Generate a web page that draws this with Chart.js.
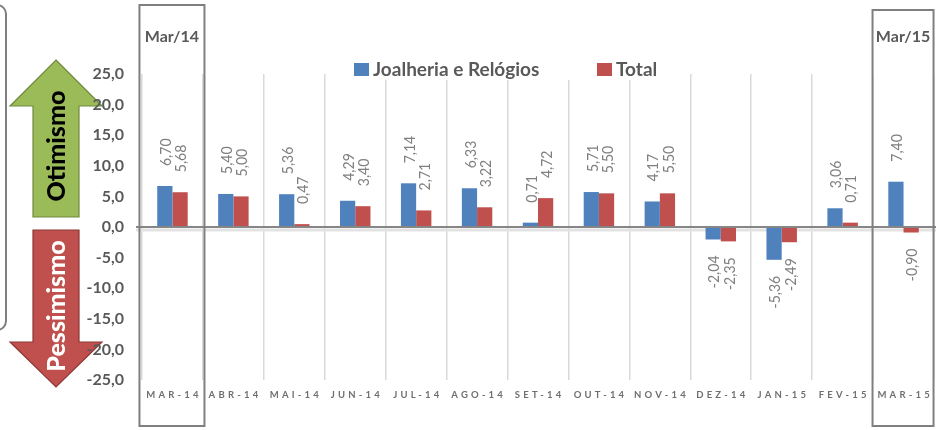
<!DOCTYPE html>
<html>
<head>
<meta charset="utf-8">
<script src="https://cdn.jsdelivr.net/npm/chart.js@4"></script>
<style>
  html, body { margin: 0; padding: 0; background: #fff; }
  #wrap { width: 936px; height: 430px; }
</style>
</head>
<body>
<div id="wrap"><canvas id="grafico" width="936" height="430"></canvas></div>
<script>
// meses e valores do indice (saldo otimismo / pessimismo)
var meses = ["MAR-14", "ABR-14", "MAI-14", "JUN-14", "JUL-14", "AGO-14", "SET-14", "OUT-14", "NOV-14", "DEZ-14", "JAN-15", "FEV-15", "MAR-15"];
var joalheria = [6.70, 5.40, 5.36, 4.29, 7.14, 6.33, 0.71, 5.71, 4.17, -2.04, -5.36, 3.06, 7.40];
var total = [5.68, 5.00, 0.47, 3.40, 2.71, 3.22, 4.72, 5.50, 5.50, -2.35, -2.49, 0.71, -0.90];
var destaques = ["Mar/14", "Mar/15"];

var AZUL = "#4F81BD";
var VERMELHO = "#C0504D";
var CINZA = "#595959";

function virgula(v, casas) {
  return v.toFixed(casas).replace(".", ",");
}

// setas otimismo / pessimismo + caixa lateral (desenhadas antes dos eixos)
var setas = {
  id: "setas",
  beforeDraw: function (chart) {
    var ctx = chart.ctx;
    ctx.save();
    ctx.strokeStyle = "#7F7F7F";
    ctx.lineWidth = 2;
    ctx.beginPath();
    ctx.roundRect(-20, 5, 26, 325, 9);
    ctx.stroke();

    // seta verde para cima
    ctx.beginPath();
    ctx.moveTo(56, 60);
    ctx.lineTo(102, 106);
    ctx.lineTo(79, 106);
    ctx.lineTo(79, 217);
    ctx.lineTo(33, 217);
    ctx.lineTo(33, 106);
    ctx.lineTo(10, 106);
    ctx.closePath();
    ctx.fillStyle = "#9BBB59";
    ctx.fill();
    ctx.strokeStyle = "#71893F";
    ctx.lineWidth = 1.2;
    ctx.stroke();

    // seta vermelha para baixo
    ctx.beginPath();
    ctx.moveTo(33, 230);
    ctx.lineTo(79, 230);
    ctx.lineTo(79, 342);
    ctx.lineTo(102, 342);
    ctx.lineTo(56, 387);
    ctx.lineTo(10, 342);
    ctx.lineTo(33, 342);
    ctx.closePath();
    ctx.fillStyle = VERMELHO;
    ctx.fill();
    ctx.strokeStyle = "#8C3836";
    ctx.stroke();

    ctx.font = "900 25px Lato";
    ctx.textAlign = "center";
    ctx.textBaseline = "middle";
    ctx.save();
    ctx.translate(57, 146);
    ctx.rotate(-Math.PI / 2);
    ctx.fillStyle = "#000";
    ctx.fillText("Otimismo", 0, 0);
    ctx.restore();
    ctx.save();
    ctx.translate(57, 306);
    ctx.rotate(-Math.PI / 2);
    ctx.fillStyle = "#fff";
    ctx.fillText("Pessimismo", 0, 0);
    ctx.restore();
    ctx.restore();
  },
  // sombra da linha do zero, por baixo das barras
  beforeDatasetsDraw: function (chart) {
    var ctx = chart.ctx;
    var zero = chart.scales.y.getPixelForValue(0);
    ctx.save();
    ctx.strokeStyle = "#E3E3E3";
    ctx.lineWidth = 3;
    ctx.beginPath();
    ctx.moveTo(136, zero + 3);
    ctx.lineTo(936, zero + 3);
    ctx.stroke();
    ctx.restore();
  }
};

// linha do zero, rotulos, legenda, meses e caixas de destaque
var extras = {
  id: "extras",
  afterDraw: function (chart) {
    var ctx = chart.ctx;
    var x = chart.scales.x;
    var y = chart.scales.y;
    var zero = y.getPixelForValue(0);
    ctx.save();

    // linha do zero
    ctx.strokeStyle = "#868686";
    ctx.lineWidth = 2;
    ctx.beginPath();
    ctx.moveTo(136, zero);
    ctx.lineTo(936, zero);
    ctx.stroke();

    // valores rotacionados
    ctx.font = "14px Lato";
    ctx.fillStyle = "#7F7F7F";
    ctx.textBaseline = "middle";
    chart.data.datasets.forEach(function (ds, i) {
      var meta = chart.getDatasetMeta(i);
      meta.data.forEach(function (bar, j) {
        var v = ds.data[j];
        var py = v >= 0 ? bar.y - 20 : bar.y + 16;
        ctx.save();
        ctx.translate(bar.x + 1, py);
        ctx.scale(1.15, 1);
        ctx.rotate(-Math.PI / 2);
        ctx.textAlign = v >= 0 ? "left" : "right";
        ctx.fillText(virgula(v, 2), 0, 0);
        ctx.restore();
      });
    });

    // meses no eixo x
    ctx.font = "bold 9.5px Lato";
    ctx.fillStyle = "#6F6F6F";
    ctx.textAlign = "center";
    ctx.letterSpacing = "3.2px";
    meses.forEach(function (m, j) {
      ctx.fillText(m, x.getPixelForValue(j) + 1.6, 395);
    });
    ctx.letterSpacing = "0px";

    // caixas de destaque no primeiro e no ultimo mes
    [[0, 5, 65], [meses.length - 1, 10, 61]].forEach(function (c, k) {
      var cx = x.getPixelForValue(c[0]) - 0.5;
      ctx.strokeStyle = "#7F7F7F";
      ctx.lineWidth = 2;
      ctx.strokeRect(cx - c[2] / 2, c[1], c[2], 426 - c[1]);
      ctx.font = "bold 16px Lato";
      ctx.fillStyle = CINZA;
      ctx.textAlign = "center";
      ctx.fillText(destaques[k], cx, 37);
    });

    // legenda
    ctx.fillStyle = "#fff";
    ctx.fillRect(350, 56, 320, 24);
    ctx.font = "bold 19px Lato";
    ctx.textAlign = "left";
    ctx.textBaseline = "middle";
    var itens = [[354, AZUL, chart.data.datasets[0].label], [597, VERMELHO, chart.data.datasets[1].label]];
    itens.forEach(function (it) {
      ctx.fillStyle = it[1];
      ctx.fillRect(it[0], 63, 15, 13);
      ctx.fillStyle = CINZA;
      ctx.fillText(it[2], it[0] + 19, 70);
    });
    ctx.restore();
  }
};

const grafico = new Chart(document.getElementById("grafico"), {
  type: "bar",
  data: {
    labels: meses,
    datasets: [
      { label: "Joalheria e Relógios", data: joalheria, backgroundColor: AZUL },
      { label: "Total", data: total, backgroundColor: VERMELHO }
    ]
  },
  options: {
    responsive: false,
    animation: false,
    categoryPercentage: 0.5,
    barPercentage: 1.0,
    layout: { padding: { top: 74, right: 2, bottom: 0, left: 0 } },
    plugins: {
      legend: { display: false },
      tooltip: { enabled: false }
    },
    scales: {
      x: {
        grid: { color: "#D9D9D9", lineWidth: 1.5, drawTicks: false, offset: true },
        border: { display: false },
        ticks: { display: false },
        afterFit: function (s) { s.height = 50; }
      },
      y: {
        min: -25,
        max: 25,
        grid: { display: false, drawTicks: false },
        border: { display: false },
        ticks: {
          stepSize: 5,
          padding: 18,
          color: CINZA,
          font: { family: "Lato", size: 16, weight: "bold" },
          callback: function (v) { return virgula(v, 1); }
        },
        afterFit: function (s) { s.width = 142; }
      }
    }
  },
  plugins: [setas, extras]
});
</script>
</body>
</html>
